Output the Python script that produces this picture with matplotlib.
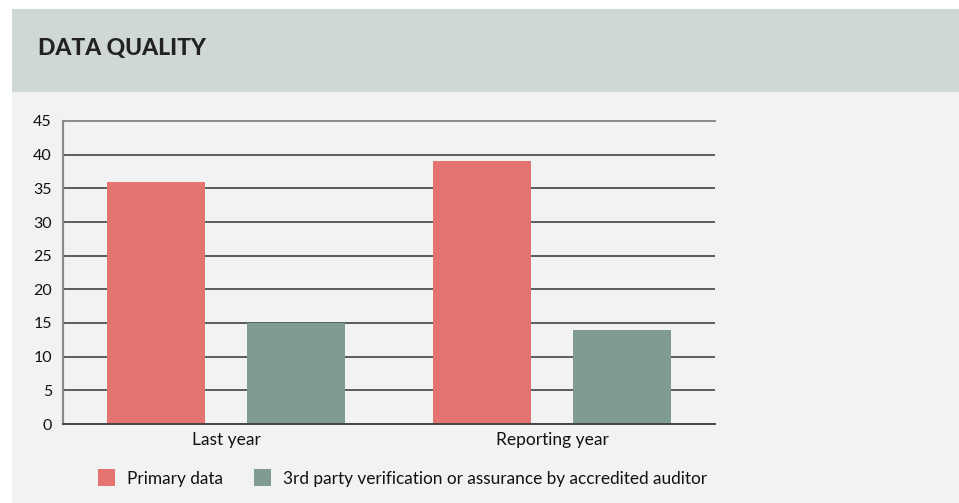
import matplotlib.pyplot as plt
from matplotlib.patches import Rectangle

# データ
categories = ["Last year", "Reporting year"]
primary_data = [36, 39]
third_party = [15, 14]
series_names = ["Primary data", "3rd party verification or assurance by accredited auditor"]
y_ticks = [0, 5, 10, 15, 20, 25, 30, 35, 40, 45]

RED = "#E37472"
GREEN = "#809C92"
W, H = 959, 503

plt.rcParams["font.family"] = ["Lato", "DejaVu Sans"]

fig = plt.figure(figsize=(W / 100, H / 100), dpi=100)
fig.patch.set_facecolor("white")

# 背景パネルとヘッダー帯
fig.patches.append(Rectangle((12 / W, 0), 1, 1 - 92 / H, transform=fig.transFigure,
                             facecolor="#F1F3F2", edgecolor="none", zorder=-10))
fig.patches.append(Rectangle((12 / W, 1 - 92 / H), 1, 83 / H, transform=fig.transFigure,
                             facecolor="#CFD8D4", edgecolor="none", zorder=-10))
fig.text(38 / W, 1 - 49 / H, "DATA QUALITY", fontsize=16.5, fontweight="black",
         color="#222222", va="center", ha="left")

ax = fig.add_axes([63 / W, 1 - 424 / H, 652 / W, 303 / H])
ax.set_facecolor("none")
ax.set_zorder(2)

x = range(len(categories))
off, bw = 0.215, 0.30
ax.bar([i - off for i in x], primary_data, width=bw, color=RED, label=series_names[0], zorder=2)
ax.bar([i + off for i in x], third_party, width=bw, color=GREEN, label=series_names[1], zorder=2)

ax.set_xlim(-0.5, 1.5)
ax.set_ylim(0, 45)
ax.set_yticks(y_ticks)
ax.set_xticks(list(x))
ax.set_xticklabels(categories)
ax.tick_params(axis="both", length=0, colors="#111111")
ax.tick_params(axis="y", pad=8, labelsize=11.5)
ax.tick_params(axis="x", pad=6, labelsize=12.5)

for v in y_ticks[1:-1]:
    ax.axhline(v, color="#333333", lw=1.1, zorder=1)
ax.spines["top"].set_color("#8a8a8a")
ax.spines["top"].set_linewidth(1.4)
ax.spines["right"].set_visible(False)
ax.spines["left"].set_color("#8a8a8a")
ax.spines["left"].set_linewidth(1.6)
ax.spines["bottom"].set_color("#444444")
ax.spines["bottom"].set_linewidth(1.4)

leg = fig.legend(loc="center left", bbox_to_anchor=(82 / W, 1 - 478 / H), ncol=2,
                 frameon=False, fontsize=12.4, handlelength=1.0, handleheight=1.15,
                 handletextpad=0.7, columnspacing=1.8)
for t in leg.get_texts():
    t.set_color("#111111")

fig.savefig("out.png", dpi=100, facecolor=fig.get_facecolor())
